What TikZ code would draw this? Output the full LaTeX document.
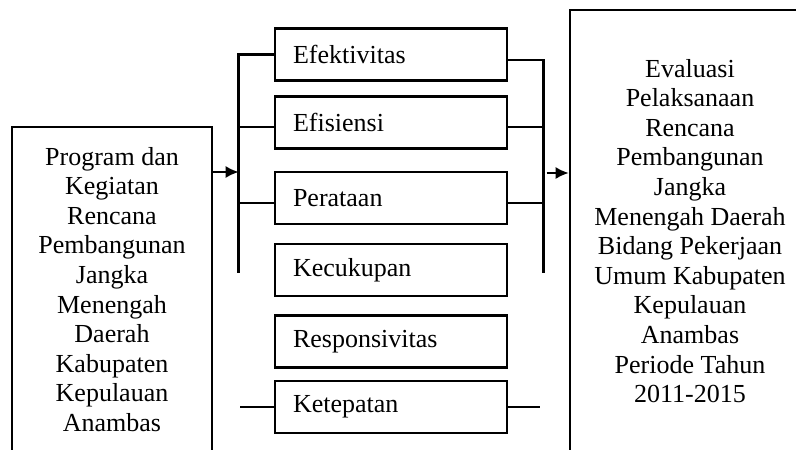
\documentclass[tikz,border=0pt]{standalone}
\usepackage{fontspec}
\setmainfont{Liberation Serif}
\usetikzlibrary{arrows.meta}

\tikzset{%
  % Specifications for style of nodes:
         crit/.style = {rectangle, draw = black, line width=1.3pt, minimum width=116pt, minimum height=26pt, text width=98pt, inner xsep=9pt, align=left, font=\fontsize{13}{14.9}\selectfont},
         bigbox/.style = {rectangle, draw = black, line width=1.3pt, align=center, font=\fontsize{13}{14.8}\selectfont},
         link/.style = {line width=1.3pt},
         arrow/.style = {-{Latex[length=6.5pt,width=6pt]}, line width=1pt},
}

\begin{document}
\begin{tikzpicture}[x=1pt, y=1pt, node distance=35.5pt]
    \useasboundingbox (0,0) rectangle (398,-224.5);
    \clip (0,0) rectangle (398,-224.5);

    % Draw nodes
    \node (eff)    [crit] at (195.5,-27.35)                      {Efektivitas};
    \node (efis)   [crit, below of = eff, node distance=33.9pt]    {Efisiensi};
    \node (rata)   [crit, below of = efis, node distance=37.65pt]  {Perataan};
    \node (cukup)  [crit, below of = rata, node distance=36.1pt]   {Kecukupan};
    \node (resp)   [crit, below of = cukup, node distance=35.65pt] {Responsivitas};
    \node (tepat)  [crit, below of = resp, node distance=32.75pt]  {Ketepatan};

    \node (prog)   [bigbox, minimum width=100pt, minimum height=162.5pt] at (56,-144.75)
        {Program dan\\Kegiatan\\Rencana\\Pembangunan\\Jangka\\Menengah\\Daerah\\Kabupaten\\Kepulauan\\Anambas};
    \node (eval)   [bigbox, minimum width=120pt, minimum height=221pt] at (345,-115.5)
        {Evaluasi\\Pelaksanaan\\Rencana\\Pembangunan\\Jangka\\Menengah Daerah\\Bidang Pekerjaan\\Umum Kabupaten\\Kepulauan\\Anambas\\Periode Tahun\\2011-2015};

    % Draw connectors
    \draw[link] (eff.west) -- ++(-17.5,0) coordinate (ltop) -- ++(0,-109.15);
    \draw[link] ([yshift=-2.25pt]efis.west) -- ++(-17.5,0);
    \draw[link] ([yshift=-2.6pt]rata.west) -- ++(-17.5,0);

    \draw[link] ([yshift=-2.65pt]eff.east) -- ++(17.5,0) -- ++(0,-106.5);
    \draw[link] ([yshift=-2.25pt]efis.east) -- ++(17.5,0);
    \draw[link] ([yshift=-2.6pt]rata.east) -- ++(17.5,0);

    \draw[link] (tepat.west) -- ++(-17,0);
    \draw[link] (tepat.east) -- ++(16,0);

    \coordinate (lin) at ([yshift=58.75pt]prog.east);
    \draw[arrow] (lin) -- (lin -| ltop);
    \coordinate (rin) at ([yshift=29pt]eval.west);
    \draw[arrow] ([xshift=-11pt]rin) -- (rin);

\end{tikzpicture}
\end{document}
